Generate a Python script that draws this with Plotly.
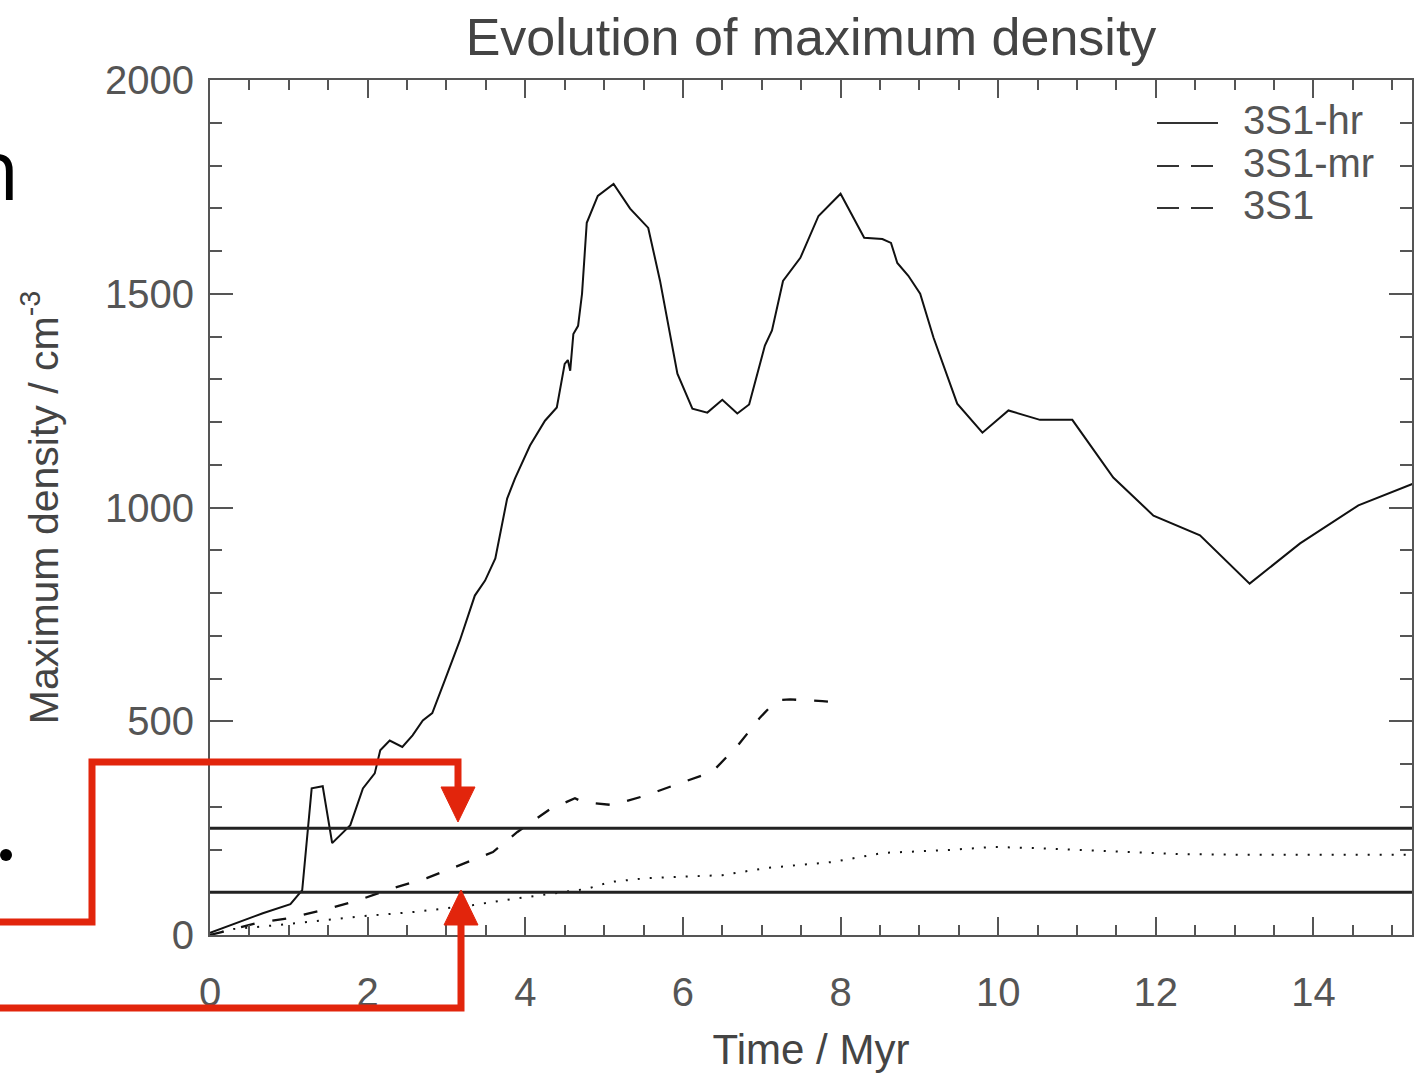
import plotly.graph_objects as go

# ---------------- data ----------------
hr_t = [0, 0.67, 1.02, 1.17, 1.29, 1.43, 1.55, 1.78, 1.94, 2.09, 2.16, 2.28, 2.44, 2.57, 2.70, 2.82,
        2.98, 3.17, 3.36, 3.49, 3.62, 3.77, 3.87, 4.06, 4.25, 4.40, 4.50, 4.54, 4.57, 4.61, 4.67,
        4.72, 4.78, 4.92, 5.12, 5.33, 5.56, 5.71, 5.93, 6.12, 6.31, 6.50, 6.69, 6.84, 7.04, 7.13,
        7.27, 7.49, 7.72, 8.00, 8.30, 8.53, 8.64, 8.72, 8.86, 9.01, 9.18, 9.48, 9.80, 10.13, 10.53,
        10.94, 11.46, 11.97, 12.56, 13.19, 13.83, 14.57, 15.27]
hr_y = [5, 51, 72, 105, 343, 348, 215, 257, 343, 378, 432, 455, 440, 467, 502, 519,
        596, 689, 794, 829, 881, 1021, 1068, 1145, 1203, 1234, 1336, 1345, 1320, 1406, 1425,
        1500, 1666, 1729, 1757, 1699, 1654, 1530, 1313, 1231, 1222, 1252, 1220, 1241, 1379, 1414,
        1530, 1584, 1682, 1734, 1631, 1628, 1619, 1572, 1542, 1500, 1397, 1243, 1175, 1227, 1205,
        1205, 1070, 981, 935, 822, 916, 1005, 1056]

mr_t = [0, 0.6, 1.02, 1.43, 1.86, 2.28, 2.75, 3.17, 3.59, 3.9, 4.31, 4.63, 4.73, 5.11, 5.54,
        5.96, 6.37, 6.70, 6.98, 7.19, 7.36, 7.77, 7.84]
mr_y = [0, 28, 40, 58, 80, 107, 133, 163, 194, 241, 294, 320, 311, 304, 327,
        355, 381, 444, 509, 549, 551, 547, 546]

s_t = [0, 0.3, 0.9, 1.5, 2.0, 2.6, 3.34, 3.68, 4.3, 4.78, 5.08, 5.54, 6.5, 7.07, 7.91, 8.54,
       9.39, 9.94, 10.5, 11.71, 12.35, 13.0, 15.25]
s_y = [0, 14, 24, 35, 45, 54, 70, 80, 95, 108, 124, 133, 140, 157, 171, 192,
       199, 206, 203, 194, 189, 188, 188]

thresholds = [100, 250]
legend_names = ["3S1-hr", "3S1-mr", "3S1"]
x_ticks = [0, 2, 4, 6, 8, 10, 12, 14]
y_ticks = [0, 500, 1000, 1500, 2000]

# ---------------- figure ----------------
W, H = 1414, 1073
ML, MR, MT, MB = 210, 2, 80, 138
PW, PH = W - ML - MR, H - MT - MB

def P(x, y):
    return (x - ML) / PW, (H - MB - y) / PH

FONT = "Liberation Sans, Arial, Helvetica, sans-serif"
GRAY = "#555555"
INK = "#111111"

fig = go.Figure()
fig.add_trace(go.Scatter(x=hr_t, y=hr_y, mode="lines", name=legend_names[0], showlegend=False,
                         line=dict(color=INK, width=2)))
fig.add_trace(go.Scatter(x=mr_t, y=mr_y, mode="lines", name=legend_names[1], showlegend=False,
                         line=dict(color=INK, width=2.3, dash="14px,18px")))
fig.add_trace(go.Scatter(x=s_t, y=s_y, mode="lines", name=legend_names[2], showlegend=False,
                         line=dict(color=INK, width=2, dash="2px,10px")))

for th in thresholds:
    fig.add_hline(y=th, line=dict(color="#222", width=3))

axis_common = dict(showline=True, linecolor=GRAY, linewidth=2, mirror="ticks",
                   ticks="inside", tickcolor=GRAY, tickwidth=2, showgrid=False,
                   zeroline=False, tickfont=dict(family=FONT, size=40, color=GRAY))

fig.update_xaxes(range=[0, 15.25], tickvals=x_ticks, ticklen=18,
                 minor=dict(dtick=0.5, ticks="inside", ticklen=10, tickcolor=GRAY, tickwidth=2),
                 ticklabelstandoff=21,
                 title=dict(text="Time / Myr", font=dict(family=FONT, size=42, color="#444"),
                            standoff=25),
                 **axis_common)
fig.update_yaxes(range=[0, 2000], tickvals=y_ticks, ticklen=23,
                 minor=dict(dtick=100, ticks="inside", ticklen=12, tickcolor=GRAY, tickwidth=2),
                 ticklabelstandoff=6,
                 title=dict(text="Maximum density / cm<sup>-3</sup>",
                            font=dict(family=FONT, size=41, color="#444"), standoff=34),
                 **axis_common)

RED = "#E2250C"
def path(pts, closed=False):
    s = "M " + " L ".join(f"{P(x, y)[0]:.5f},{P(x, y)[1]:.5f}" for x, y in pts)
    return s + (" Z" if closed else "")

fig.add_shape(type="path", xref="paper", yref="paper",
              path=path([(-10, 922), (92, 922), (92, 762), (458, 762), (458, 792)]),
              line=dict(color=RED, width=7), layer="above")
fig.add_shape(type="path", xref="paper", yref="paper",
              path=path([(441, 787), (475, 787), (458, 822)], True),
              fillcolor=RED, line=dict(color=RED, width=1), layer="above")
fig.add_shape(type="path", xref="paper", yref="paper",
              path=path([(-10, 1008), (461, 1008), (461, 920)]),
              line=dict(color=RED, width=7), layer="above")
fig.add_shape(type="path", xref="paper", yref="paper",
              path=path([(444, 925), (478, 925), (461, 890)], True),
              fillcolor=RED, line=dict(color=RED, width=1), layer="above")
cx0, cy0 = P(0, 849)
cx1, cy1 = P(12, 861)
fig.add_shape(type="circle", xref="paper", yref="paper", x0=cx0, y0=cy0, x1=cx1, y1=cy1,
              fillcolor="black", line=dict(color="black", width=0), layer="above")

# manual legend (sample lines + labels)
leg_rows = [123, 166, 208]
leg_dash = ["solid", "22px,12px", "22px,12px"]
annotations = []
for name, yy, d in zip(legend_names, leg_rows, leg_dash):
    a0 = P(1157, yy)
    a1 = P(1218, yy)
    fig.add_shape(type="line", xref="paper", yref="paper", x0=a0[0], y0=a0[1], x1=a1[0], y1=a1[1],
                  line=dict(color="#333", width=2, dash=d))
    tx, ty = P(1241, yy - 3)
    annotations.append(dict(text=name, x=tx, y=ty, xref="paper", yref="paper",
                            xanchor="left", yanchor="middle", showarrow=False,
                            font=dict(family=FONT, size=40, color=GRAY)))

nx, ny = P(22, 167)
annotations.append(dict(text="n", x=nx, y=ny, xref="paper", yref="paper", xanchor="right",
                        yanchor="middle", showarrow=False,
                        font=dict(family="Open Sans, sans-serif", size=84, color="black")))

fig.update_layout(
    width=W, height=H,
    margin=dict(l=ML, r=MR, t=MT, b=MB, autoexpand=False),
    paper_bgcolor="white", plot_bgcolor="white",
    showlegend=False,
    title=dict(text="Evolution of maximum density", x=0.5, xref="paper", xanchor="center",
               y=1 - 37 / H, yref="container", yanchor="middle",
               font=dict(family=FONT, size=52, color="#444")),
    annotations=annotations,
)

fig.write_html("out.html", config={"displayModeBar": False},
               post_script="document.body.style.margin='0';document.body.style.overflow='hidden';")
